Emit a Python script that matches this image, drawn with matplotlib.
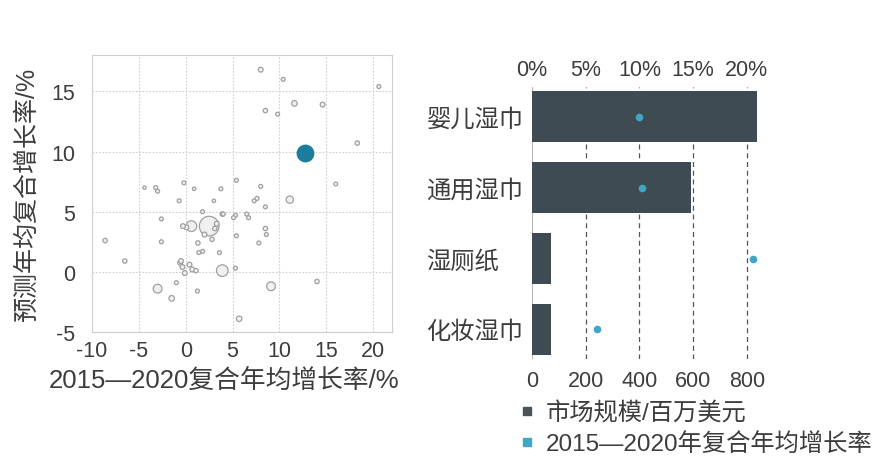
import matplotlib.pyplot as plt
from matplotlib.lines import Line2D

plt.rcParams['font.family'] = ['Liberation Sans', 'Noto Sans CJK SC']
plt.rcParams['axes.unicode_minus'] = False

# scatter: 2015-2020 CAGR (x) vs forecast CAGR (y), marker size ~ market size
sc_x = [8.0, 10.4, 20.6, 11.6, 14.6, 8.5, 9.8, 18.3, 16.0, 11.1, 5.4, 8.0, 3.75,
        0.9, -0.2, -4.4, -3.2, -3.0, -0.7, 3.0, 7.3, 7.6, 8.5, 6.5, 6.7, 5.3, 5.1,
        3.9, 4.0, 1.8, -2.6, 2.5, 0.6, 0.07, -0.3, 3.3, 3.1, 8.5, 8.6, 5.4, -2.6,
        -8.6, 7.8, 2.0, 1.3, 2.8, 1.8, 1.4, 3.6, -6.5, -0.6, -0.35, -0.1, 0.4,
        0.7, 1.1, -0.5, 3.9, 5.3, -3.0, -1.5, 1.25, -1.0, 9.1, 14.0, 5.7]
sc_y = [16.8, 16.0, 15.4, 14.0, 13.9, 13.4, 13.1, 10.7, 7.3, 6.0, 7.6, 7.1, 6.9,
        6.9, 7.4, 7.0, 7.0, 6.7, 5.9, 5.9, 5.9, 6.1, 5.4, 4.8, 4.5, 4.7, 4.5,
        4.8, 4.8, 5.0, 4.4, 3.8, 3.8, 3.7, 3.8, 4.0, 3.6, 3.6, 3.1, 3.0, 2.5,
        2.6, 2.4, 3.1, 2.4, 2.7, 1.7, 1.6, 1.6, 0.9, 0.75, 0.4, -0.1, 0.6,
        0.2, 0.1, 0.9, 0.1, 0.3, -1.4, -2.2, -1.6, -0.9, -1.2, -0.8, -3.9]
sc_s = [12, 8, 8, 16, 12, 10, 8, 10, 8, 28, 8, 8, 8,
        6, 8, 6, 8, 8, 8, 6, 8, 8, 8, 8, 8, 8, 8,
        10, 8, 8, 8, 200, 60, 12, 12, 12, 10, 10, 8, 8, 8,
        10, 8, 12, 10, 10, 8, 8, 8, 10, 12, 12, 12, 12,
        12, 10, 12, 70, 8, 40, 16, 8, 8, 40, 10, 16]
hl_x = [12.75]
hl_y = [9.9]

# bars
cats = ['婴儿湿巾', '通用湿巾', '湿厕纸', '化妆湿巾']
market = [838, 592, 71, 70]
growth = [10.0, 10.2, 20.6, 6.1]

fig = plt.figure(figsize=(8.72, 4.64), dpi=100)
txt = '#3d3d3d'

ax1 = fig.add_axes([0.1055, 0.2823, 0.344, 0.5965])
ax1.scatter(sc_x, sc_y, s=sc_s, facecolor='#f0f0f0', edgecolor='#a0a0a0', linewidth=0.9, zorder=3)
ax1.scatter(hl_x, hl_y, s=140, color='#1b7d9c', zorder=4)
ax1.set_xlim(-10, 22)
ax1.set_ylim(-5, 18)
ax1.set_xticks([-10, -5, 0, 5, 10, 15, 20])
ax1.set_yticks([-5, 0, 5, 10, 15])
ax1.grid(True, color='#cfcfcf', linewidth=0.8, linestyle=(0, (1.5, 1.5)))
ax1.set_axisbelow(True)
for sp in ax1.spines.values():
    sp.set_color('#cfcfcf')
ax1.tick_params(length=0, labelsize=15.5, colors=txt)
ax1.tick_params(axis='x', pad=6)
ax1.tick_params(axis='y', pad=12)
ax1.set_xlabel('2015—2020复合年均增长率/%', fontsize=18.5, color=txt, labelpad=3)
ax1.xaxis.set_label_coords(0.44, -0.13)
ax1.set_ylabel('预测年均复合增长率/%', fontsize=18, color=txt, labelpad=9)

ax2 = fig.add_axes([0.610, 0.224, 0.265, 0.586])
ypos = list(range(len(cats)))
ax2.barh(ypos, market, height=0.72, color='#3f4b52', zorder=2)
ax2.set_xlim(0, 860)
ax2.set_ylim(3.42, -0.42)
ax2.set_yticks(ypos)
ax2.set_yticklabels(cats, ha='left')
ax2.set_xticks([0, 200, 400, 600, 800])
for v in [200, 400, 600, 800]:
    ax2.axvline(v, color='#555555', linewidth=0.9, linestyle=(0, (4, 3)), zorder=1)
ax2.axvline(0, color='#bbbbbb', linewidth=0.8, zorder=1)
for sp in ax2.spines.values():
    sp.set_visible(False)
ax2.tick_params(length=0, labelsize=15.5, colors=txt)
ax2.tick_params(axis='x', pad=8)
ax2.tick_params(axis='y', labelsize=17.5, pad=76)

ax3 = ax2.twiny()
ax3.set_xlim(0, 21.5)
ax3.scatter(growth, ypos, s=20, color='#3fa6c6', zorder=5)
ax3.set_xticks([0, 5, 10, 15, 20])
ax3.set_xticklabels(['%d%%' % t for t in [0, 5, 10, 15, 20]])
for sp in ax3.spines.values():
    sp.set_visible(False)
ax3.tick_params(length=0, labelsize=15.5, colors=txt, pad=5)

handles = [Line2D([], [], marker='s', linestyle='none', markersize=6, color='#4a5458'),
           Line2D([], [], marker='s', linestyle='none', markersize=6, color='#3fa6c6')]
fig.legend(handles, ['市场规模/百万美元', '2015—2020年复合年均增长率'],
           loc='upper left', bbox_to_anchor=(0.585, 0.153), frameon=False,
           fontsize=17.5, handlelength=0.6, handletextpad=0.45, labelspacing=0.3,
           borderaxespad=0, labelcolor=txt)

fig.savefig('out.png', dpi=100)
